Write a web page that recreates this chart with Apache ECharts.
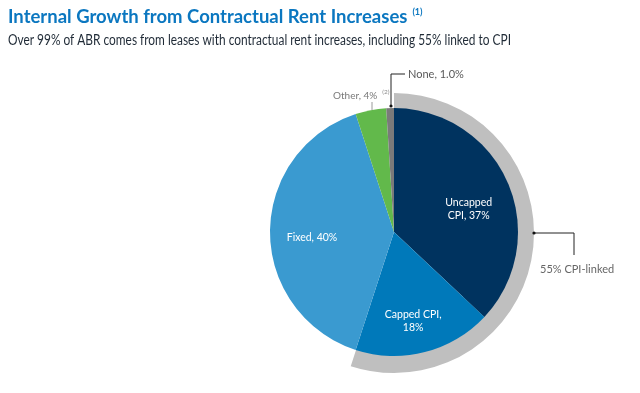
<!DOCTYPE html>
<html><head><meta charset="utf-8">
<script src="https://cdn.jsdelivr.net/npm/echarts@6/dist/echarts.min.js"></script>
<style>html,body{margin:0;padding:0;background:#fff}#c{width:640px;height:393px}</style>
</head><body><div id="c"></div>
<script>
const categories = ['Uncapped CPI', 'Capped CPI', 'Fixed', 'Other', 'None'];
const values = [37, 18, 40, 4, 1.0];
const labelTexts = ['Uncapped\nCPI, 37%', 'Capped CPI,\n18%', 'Fixed, 40%', 'Other, 4%', 'None, 1.0%'];
const colors = ['#00335F', '#0079BA', '#3A9AD0', '#62B94B', '#7A7A7A'];
const cpiLinkedValue = 55;
const cpiLinkedLabel = '55% CPI-linked';
const titleText = 'Internal Growth from Contractual Rent Increases';
const subtitleText = 'Over 99% of ABR comes from leases with contractual rent increases, including 55% linked to CPI';

const CX = 394, CY = 232, R = 124;
const FONT = 'Lato, "Open Sans", sans-serif';

const insideShift = [[15, 3], [3, 26], [-17, 6]];

const chart = echarts.init(document.getElementById('c'), null, {renderer: 'canvas'});
const pieData = categories.map((c, i) => {
  const d = {name: c, value: values[i], itemStyle: {color: colors[i]}};
  if (i < 3) {
    d.label = {show: true, position: 'inside', formatter: labelTexts[i], color: '#fff',
      fontSize: 10.5, fontFamily: FONT, lineHeight: 13, align: 'center'};
    d.labelLine = {show: false};
  } else if (i === 3) {
    d.label = {show: true, position: 'outside', formatter: '{t|' + labelTexts[i] + '}{s|(2)}',
      rich: {t: {color: '#7a7a7a', fontSize: 10, fontFamily: FONT},
             s: {color: '#8a8a8a', fontSize: 6.5, fontFamily: FONT, verticalAlign: 'top', padding: [0, 0, 8, 5]}}};
    d.labelLine = {show: true, lineStyle: {color: '#9a9a9a', width: 1}};
  } else {
    d.label = {show: true, position: 'outside', formatter: labelTexts[i], color: '#595959',
      fontSize: 11, fontFamily: FONT};
    d.labelLine = {show: true, lineStyle: {color: '#222', width: 1}};
  }
  return d;
});

chart.setOption({
  animation: false,
  title: {
    text: '{a|' + titleText + '} {s|(1)}',
    left: 3, top: 3,
    textStyle: {rich: {
      a: {fontSize: 18.5, color: '#0B77C0', fontFamily: FONT, fontWeight: 'bold'},
      s: {fontSize: 9, color: '#0B77C0', fontFamily: FONT, fontWeight: 'bold', verticalAlign: 'top', padding: [0, 0, 8, 0]}
    }}
  },
  graphic: [
    {type: 'text', left: 8, top: 33, scaleX: 0.82, z: 100,
      style: {text: subtitleText, fontSize: 14.5, fill: '#1F2A36', fontFamily: FONT}},
    {type: 'circle', shape: {cx: 391, cy: 106, r: 1.6}, style: {fill: '#111'}, z: 100},
    {type: 'circle', shape: {cx: 534, cy: 233, r: 1.6}, style: {fill: '#111'}, z: 100}
  ],
  series: [
    {
      type: 'pie', z: 1, center: [CX, CY + 1], radius: [R - 30, R + 16],
      startAngle: 90, clockwise: true, silent: true,
      data: [
        {name: 'CPI-linked', value: cpiLinkedValue, itemStyle: {color: '#BFBFBF'},
          label: {show: true, position: 'outside', formatter: cpiLinkedLabel, color: '#666', fontSize: 11,
            fontFamily: FONT, overflow: 'none', width: 120},
          labelLine: {show: true, lineStyle: {color: '#222', width: 1}}},
        {name: 'rest', value: 100 - cpiLinkedValue, itemStyle: {color: 'rgba(0,0,0,0)'}, label: {show: false}, labelLine: {show: false}}
      ],
      labelLayout: function (p) {
        return {x: 540, y: 269, align: 'left', verticalAlign: 'middle', width: 120,
          labelLinePoints: [[534, 233], [574, 233], [574, 255]]};
      }
    },
    {
      type: 'pie', z: 2, center: [CX, CY], radius: [0, R],
      startAngle: 90, clockwise: true, silent: true,
      data: pieData,
      labelLayout: function (p) {
        const i = p.dataIndex;
        if (i < 3) return {dx: insideShift[i][0], dy: insideShift[i][1]};
        if (i === 3) return {x: 333, y: 96, align: 'left', verticalAlign: 'middle',
          labelLinePoints: [[372, 110], [372, 102], [372, 102]]};
        return {x: 408, y: 74, align: 'left', verticalAlign: 'middle',
          labelLinePoints: [[391, 106], [391, 74], [405, 74]]};
      }
    }
  ]
});
</script></body></html>
